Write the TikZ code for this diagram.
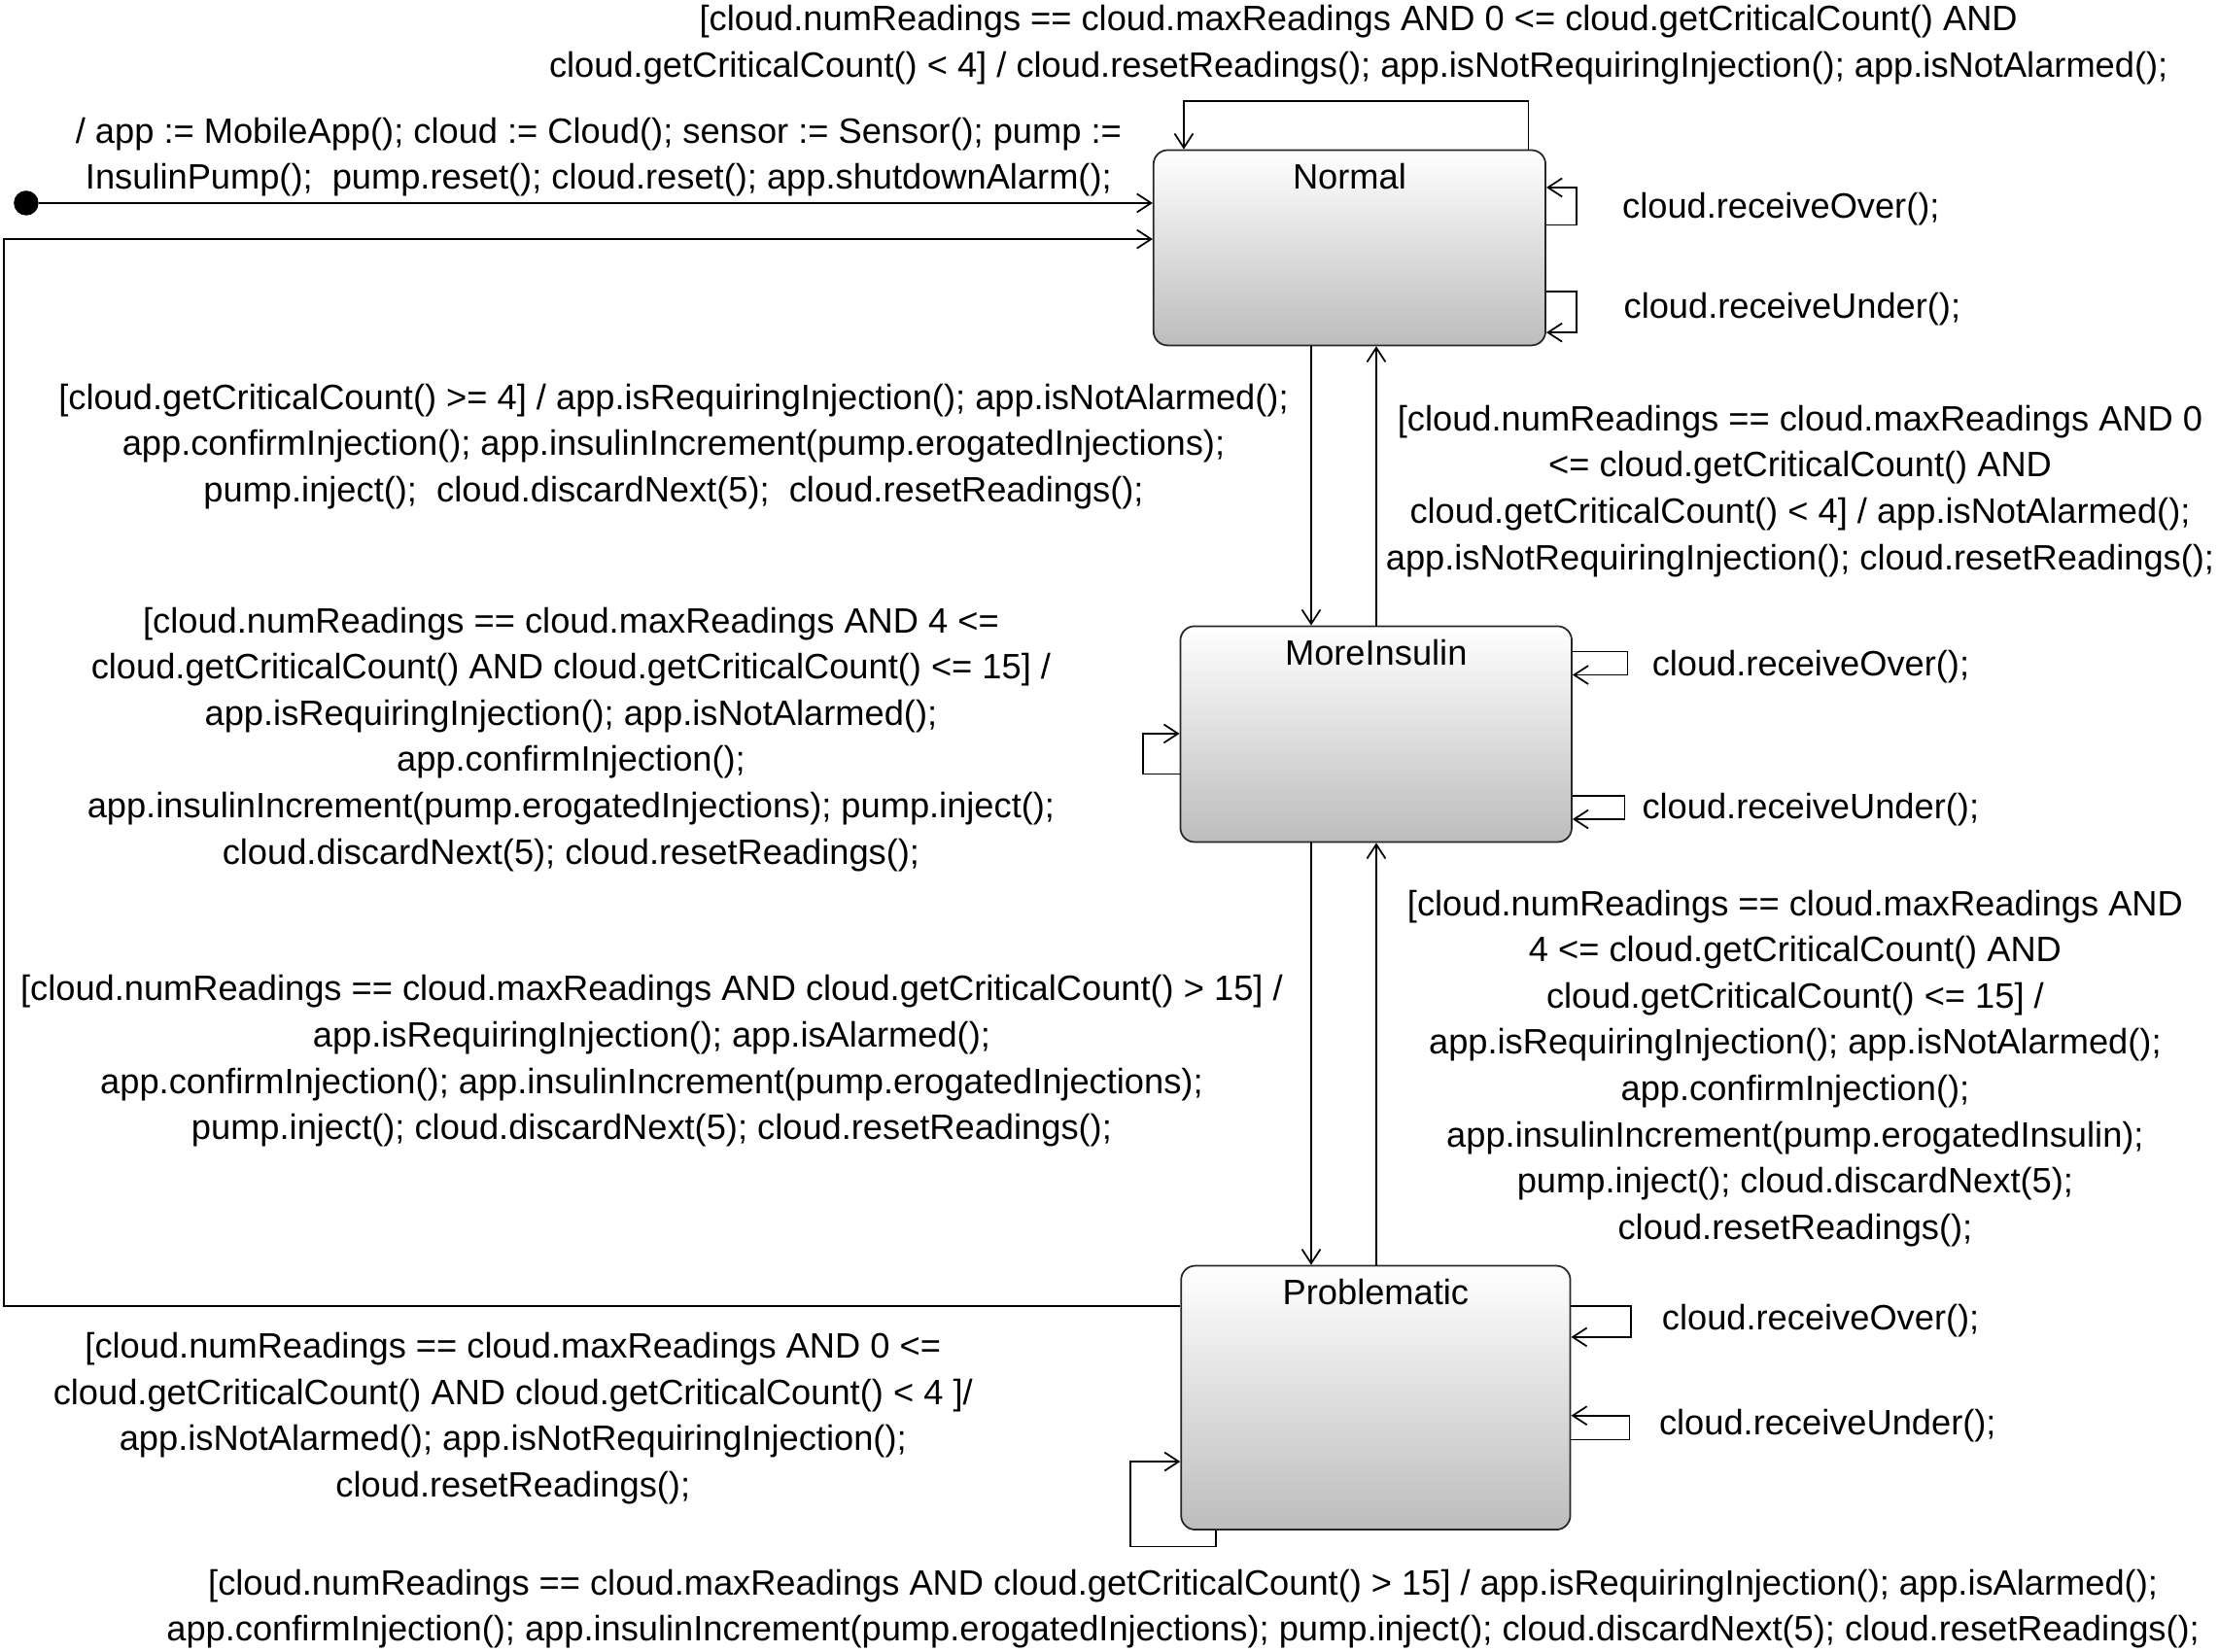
\documentclass[tikz,border=0pt]{standalone}
\usepackage{fontspec}
\setmainfont{Liberation Sans}
\usetikzlibrary{arrows.meta,calc}
\tikzset{
  state/.style={draw=black!85, line width=0.6pt, rounded corners=5pt, top color=white, bottom color=black!26, anchor=north west, inner sep=0pt},
  arr/.style={line width=0.6pt, -{Straight Barb[length=5pt,width=6.5pt]}},
  lbl/.style={align=center, inner sep=0pt, yshift=-1.25pt, font=\fontsize{12.45pt}{16.35pt}\selectfont},
  side/.style={lbl, anchor=west},
  sname/.style={align=center, inner sep=0pt, font=\fontsize{12.45pt}{16.35pt}\selectfont, anchor=center, yshift=-9.5pt}
}
\begin{document}
\begin{tikzpicture}[x=0.5pt,y=-0.5pt]
\useasboundingbox (0,0) rectangle (1568,1167);

% states
\node[state, minimum width=138.5pt, minimum height=69pt, label={[sname]north:Normal}] (N) at (814.5,105.5) {};
\node[state, minimum width=138.25pt, minimum height=76.25pt, label={[sname]north:MoreInsulin}] (M) at (833.5,442) {};
\node[state, minimum width=137.5pt, minimum height=93.25pt, label={[sname]north:Problematic}] (P) at (834,894) {};
\node[circle, fill=black, inner sep=0pt, minimum size=8.75pt] (init) at (18.5,143.5) {};

% initial transition
\draw[arr] (init) -- (init -| N.west);

% Problematic -> Normal
\coordinate (c1) at (3,923);
\coordinate (c2) at (3,169);
\draw[arr] (c1 -| P.west) -- (c1) -- (c2) -- (c2 -| N.west);

% Normal self loops
\draw[arr] (1080,0 |- N.north) -- (1080,71.5) -- (836.5,71.5) -- (836.5,0 |- N.north);
\draw[arr] (N.east |- 0,159) -- (1114,159) -- (1114,132.5) -- (N.east |- 0,132.5);
\draw[arr] (N.east |- 0,206) -- (1114,206) -- (1114,235) -- (N.east |- 0,235);

% vertical transitions
\draw[arr] (926.5,0 |- N.south) -- (926.5,0 |- M.north);
\draw[arr] (972.5,0 |- M.north) -- (972.5,0 |- N.south);
\draw[arr] (926.5,0 |- M.south) -- (926.5,0 |- P.north);
\draw[arr] (972.5,0 |- P.north) -- (972.5,0 |- M.south);

% MoreInsulin self loops
\draw[arr] (M.east |- 0,460.5) -- (1150,460.5) -- (1150,477) -- (M.east |- 0,477);
\draw[arr] (M.east |- 0,562.5) -- (1148,562.5) -- (1148,579) -- (M.east |- 0,579);
\draw[arr] (M.west |- 0,547) -- (807.5,547) -- (807.5,518.5) -- (M.west |- 0,518.5);

% Problematic self loops
\draw[arr] (P.east |- 0,923) -- (1152.5,923) -- (1152.5,945) -- (P.east |- 0,945);
\draw[arr] (P.east |- 0,1017.5) -- (1151.5,1017.5) -- (1151.5,1000.5) -- (P.east |- 0,1000.5);
\draw[arr] (859,0 |- P.south) -- (859,1093) -- (798.5,1093) -- (798.5,1033) -- (P.west |- 0,1033);

% labels
\node[lbl] (t1) at (960,29) {{[}cloud.numReadings == cloud.maxReadings AND 0 <= cloud.getCriticalCount() AND\\cloud.getCriticalCount() < 4] / cloud.resetReadings(); app.isNotRequiringInjection(); app.isNotAlarmed();};
\node[lbl] (t2) at (423,108.5) {/ app := MobileApp(); cloud := Cloud(); sensor := Sensor(); pump :=\\InsulinPump();\ \ pump.reset(); cloud.reset(); app.shutdownAlarm();};
\node[lbl] (t3) at (476,313) {{[}cloud.getCriticalCount() >= 4] / app.isRequiringInjection(); app.isNotAlarmed();\\app.confirmInjection(); app.insulinIncrement(pump.erogatedInjections);\\pump.inject();\ \ cloud.discardNext(5);\ \ cloud.resetReadings();};
\node[lbl] (t4) at (1272,344.5) {{[}cloud.numReadings == cloud.maxReadings AND 0\\<= cloud.getCriticalCount() AND\\cloud.getCriticalCount() < 4] / app.isNotAlarmed();\\app.isNotRequiringInjection(); cloud.resetReadings();};
\node[lbl] (t5) at (403.5,520) {{[}cloud.numReadings == cloud.maxReadings AND 4 <=\\cloud.getCriticalCount() AND cloud.getCriticalCount() <= 15] /\\app.isRequiringInjection(); app.isNotAlarmed();\\app.confirmInjection();\\app.insulinIncrement(pump.erogatedInjections); pump.inject();\\cloud.discardNext(5); cloud.resetReadings();};
\node[lbl] (t6) at (460.5,747.5) {{[}cloud.numReadings == cloud.maxReadings AND cloud.getCriticalCount() > 15] /\\app.isRequiringInjection(); app.isAlarmed();\\app.confirmInjection(); app.insulinIncrement(pump.erogatedInjections);\\pump.inject(); cloud.discardNext(5); cloud.resetReadings();};
\node[lbl] (t7) at (1268.5,752.5) {{[}cloud.numReadings == cloud.maxReadings AND\\4 <= cloud.getCriticalCount() AND\\cloud.getCriticalCount() <= 15] /\\app.isRequiringInjection(); app.isNotAlarmed();\\app.confirmInjection();\\app.insulinIncrement(pump.erogatedInsulin);\\pump.inject(); cloud.discardNext(5);\\cloud.resetReadings();};
\node[lbl] (t8) at (362.5,1000) {{[}cloud.numReadings == cloud.maxReadings AND 0 <=\\cloud.getCriticalCount() AND cloud.getCriticalCount() < 4 ]/\\app.isNotAlarmed(); app.isNotRequiringInjection();\\cloud.resetReadings();};
\node[lbl] (t9) at (836,1134.5) {{[}cloud.numReadings == cloud.maxReadings AND cloud.getCriticalCount() > 15] / app.isRequiringInjection(); app.isAlarmed();\\app.confirmInjection(); app.insulinIncrement(pump.erogatedInjections); pump.inject(); cloud.discardNext(5); cloud.resetReadings();};

\node[side] (nro) at (1146,145) {cloud.receiveOver();};
\node[side] (nru) at (1147,216) {cloud.receiveUnder();};
\node[side] (mro) at (1167,469) {cloud.receiveOver();};
\node[side] (mru) at (1160,570) {cloud.receiveUnder();};
\node[side] (pro) at (1174,931) {cloud.receiveOver();};
\node[side] (pru) at (1172,1005) {cloud.receiveUnder();};
\end{tikzpicture}
\end{document}
